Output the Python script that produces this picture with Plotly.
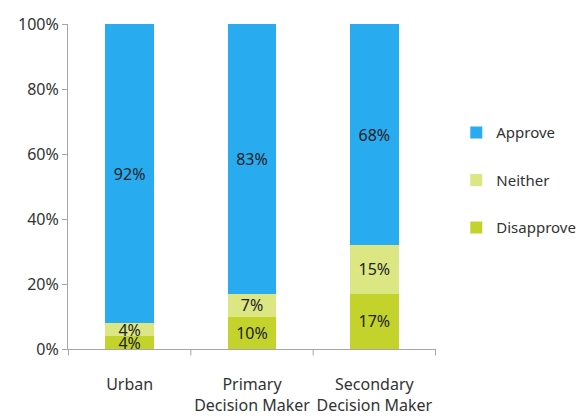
import plotly.graph_objects as go

categories = ["Urban", "Primary<br>Decision Maker", "Secondary<br>Decision Maker"]
disapprove = [4, 10, 17]
neither = [4, 7, 15]
approve = [92, 83, 68]

colors = {"Approve": "#29abf0", "Neither": "#dce683", "Disapprove": "#c3d32c"}
legend_rank = {"Approve": 1, "Neither": 2, "Disapprove": 3}
font_family = "Noto Sans, Open Sans, sans-serif"

fig = go.Figure()
for name, vals in [("Disapprove", disapprove), ("Neither", neither), ("Approve", approve)]:
    fig.add_trace(go.Bar(
        x=categories, y=vals, name=name, legendgroup=name,
        legendrank=legend_rank[name],
        marker=dict(color=colors[name], line=dict(width=0)),
        text=[f"{v}%" for v in vals],
        textposition="inside", insidetextanchor="middle", textangle=0,
        textfont=dict(color="#222222", size=16, family=font_family),
        width=0.4,
    ))

fig.update_layout(
    barmode="stack",
    width=582, height=418,
    margin=dict(l=68, r=146, t=24, b=69),
    paper_bgcolor="white", plot_bgcolor="white",
    font=dict(family=font_family, size=16, color="#333333"),
    uniformtext=dict(minsize=16, mode="show"),
    showlegend=True,
    legend=dict(
        xref="container", yref="container",
        x=0.784, y=0.722, xanchor="left", yanchor="top",
        traceorder="grouped", tracegroupgap=25,
        font=dict(size=15, color="#333333"),
        itemwidth=30,
    ),
    xaxis=dict(
        showline=True, linecolor="#a6a6a6", linewidth=1,
        ticks="", showgrid=False, tickangle=0, automargin=False,
        ticklabelstandoff=21,
        tickfont=dict(size=16, color="#333333"),
    ),
    yaxis=dict(
        range=[0, 100], tickvals=[0, 20, 40, 60, 80, 100],
        ticktext=["0%", "20%", "40%", "60%", "80%", "100%"],
        showline=True, linecolor="#a6a6a6", linewidth=1,
        ticks="outside", ticklen=5, tickcolor="#a6a6a6",
        showgrid=False, zeroline=False, automargin=False,
        tickfont=dict(size=16, color="#333333"),
    ),
)

# category separator ticks along the x axis
for pos in [-0.5, 0.5, 1.5, 2.5]:
    fig.add_shape(type="line", xref="x", yref="paper", x0=pos, x1=pos, y0=0, y1=-0.02,
                  line=dict(color="#a6a6a6", width=1))

fig.write_html("out.html")
